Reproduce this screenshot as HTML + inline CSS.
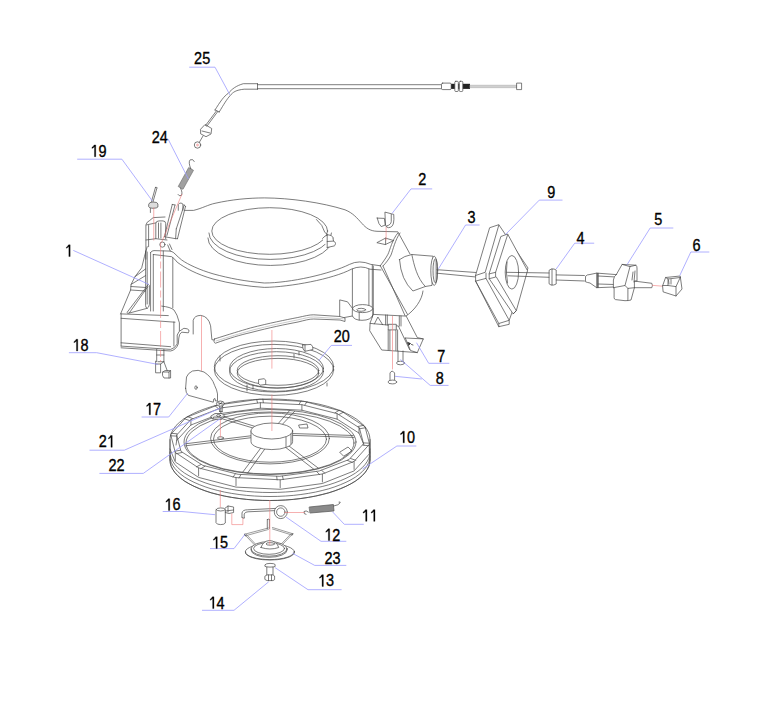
<!DOCTYPE html>
<html><head><meta charset="utf-8">
<style>
html,body{margin:0;padding:0;background:#fff;}
body{width:758px;height:720px;overflow:hidden;}
svg{display:block;}
.t{font-family:"Liberation Sans",sans-serif;font-size:17px;fill:#000;stroke:#000;stroke-width:0.35;}
.ld{stroke:#9c9cff;stroke-width:0.8;fill:none;}
.cl{stroke:#f07a7a;stroke-width:0.6;fill:none;}
.p{stroke:#4a4a4a;stroke-width:0.72;fill:none;stroke-linejoin:round;stroke-linecap:round;}
.w{stroke:#4a4a4a;stroke-width:0.72;fill:#fff;stroke-linejoin:round;}
.g{stroke:#4a4a4a;stroke-width:0.72;fill:#6a6a6a;}
</style></head><body>
<svg width="758" height="720" viewBox="0 0 758 720">
<rect width="758" height="720" fill="#fff"/>
<g id="housing" class="p">
<!-- top outline -->
<path d="M184.9,210.4 L193.6,210.4 C203,208 208,204.8 215,203.3 C232,199.5 248,198 264.3,197.9 C290,198 322,202.5 345,209.8 C353,213 357,218 362,223.5 C366,228 370,231 377,231.3 L397.8,231.8 L410,254"/>
<!-- dome -->
<ellipse cx="269.7" cy="231" rx="57.9" ry="23.3"/>
<path d="M208.9,233 A61,26.3 0 0 0 331.5,233"/>
<path d="M207.9,238 A62,27.2 0 0 0 333,238"/>
<path d="M322.5,238.4 Q325,235.5 328,234.8 Q332,235 332.8,237.2 L333.5,241.1 Q336,242.5 335.5,243.5 Q335,246 334.3,245.9 L327.2,247.5 M327.2,235 V247.5 M327.2,241.5 L333.5,241.1" fill="#fff"/>
<path d="M316.5,219.5 Q323,225 324.8,232.4 L327.5,234.5"/>
<!-- skirt -->
<path d="M150.6,252.5 Q151.5,250.6 154,250.6 L170.6,251.1 Q173.5,252 175,253.9 Q178,257 181.7,260 C188,264.5 200,270 213,273.8 C230,278.5 245,281.2 264.3,283 C290,283 330,274 349.5,264.4 Q359.2,259.5 370.9,264.4 L380.3,265.8"/>
<path d="M153.3,254.5 L171.7,256.7 Q175,259 177.2,262.2 C185,268 197,274.5 213,279 C230,283.5 248,286.5 264.3,287.4 C290,287 333,279 351.4,269.2 Q361,264.8 369.9,269.2 L381,270"/>
<!-- left column -->
<path d="M150.6,252.5 V311 M153.3,254.5 V311 M163.3,251 V311 M172.8,257.8 V307.8"/>
<path d="M145.6,251 V305.6 Q145.5,308 147.2,308.3 M147.2,252 V304"/>
<path d="M161.7,306.1 Q170.6,307 174,310 Q177.2,313.9 179.4,322.8 V330.6"/>
<!-- left base -->
<path d="M121.1,313.9 L168.3,315.6 M121.1,318.3 L175,322.2"/>
<path d="M121.1,313.9 V346.1 M121.1,342.8 L170.6,346.7 M173.9,322 V346"/>
<path d="M121.1,346.1 L170.6,349.4 Q175,348.3 177.2,343.9 V335 Q178,331 183.9,328.3 Q188,328.5 188.9,330 Q189,332.5 188.3,332.8 L181.7,332.2 Q179,334 178.8,338 L178.3,343.9 Q176,350 170.6,351 L121.1,347.8"/>
<!-- left slanted face -->
<path d="M120.6,313.9 L130.6,290 L131.1,284.4 L135,276.7 L141.7,267.8 L144.4,256.7 L147.2,246.7"/>
<path d="M135,276.7 L145.6,268.9 M131.1,284.4 L145.6,275.6 M131,286.5 L145.6,287.5 M130.6,290 L145.6,291"/>
<path d="M127.2,312.2 L148.3,284.4 L149.4,285.5 V304.4 Q149,307.5 147.2,308.3 L128.3,313.3 Z M129.4,312.8 L147.8,286.7"/>
<!-- tower -->
<path d="M145.9,259.2 V224.9 Q147,221.5 149.2,220.9 L153.2,217.6 L165,217"/>
<path d="M148.6,225.5 V246.7 M146.6,224.9 L155.8,222.9"/>
<path d="M155.8,238.7 V223.5 Q156,220.9 159,220.9 L163,220.9 Q165.7,221 165.7,223.5 V238.7 M158.5,223 V238 M160.9,223 V238"/>
<path d="M172.3,204.4 L164.4,236.7 M175,205 L167,235.4 M172.3,204.4 L175,205"/>
<path d="M184.2,205 L176.3,228.8 M185.5,206.4 L177.5,238.7 M184.2,205 L185.5,206.4"/>
<path d="M164.4,236.7 L175.6,238.7 L177.5,238.7 M176.3,228.8 L175.6,238.7"/>
<path d="M178.3,210.3 V204.5 Q179,203 181,203 L182.9,204 V210.3"/>
<circle cx="162.4" cy="244.6" r="2.6"/>
<path d="M167.7,245 L170.3,251.2 M169.5,244 L172,249.5"/>
<path d="M146,240 L155.8,238.7 L167,240"/>
<!-- right column -->
<path d="M352.4,269 V308 M368.9,269 V308 M372.3,265 V318 M373.3,266 V318"/>
<!-- right face -->
<path d="M380.3,265.8 L407.5,314.4 M383,266 L411.4,330"/>
<path d="M397.8,233 C392,240 390,250 388,254.2 C386,258 383,262 380.3,265.8"/>
<path d="M400,233 C395,240 393,250 391,255 C389,259 386,263 383,266"/>
<path d="M423,291 C422,300 415,310 405.6,316.4"/>
<!-- boss at right column -->
<path d="M339.7,318.4 V299.9 L347.5,301.8 L356.3,313.5"/>
<path d="M352.4,308.6 A10.2,4 0 0 1 372.8,308.6 V315 Q371,320.3 362,320.3 Q354,320.3 352.4,316 Z" fill="#fff"/>
<path d="M352.4,308.6 A10.2,4 0 0 0 372.8,308.6 M359.2,312.6 V320"/>
<ellipse cx="361.2" cy="309.8" rx="4.4" ry="1.5"/>
<path d="M339.7,318.4 L352.4,316"/>
</g>
<g id="elbow" class="p">
<path d="M399.5,259.6 Q404,256 411.8,254.5 L433.1,256.2 L432,285.4 L425.3,286.5 L412.9,291 Q401,280 399.5,259.6 Z" fill="#fff"/>
<path d="M411.8,254.5 C414,265 417,278 425.3,286.5"/>
<ellipse cx="434.2" cy="270.8" rx="3.4" ry="14.6" fill="#fff"/>
<ellipse cx="435.3" cy="270.8" rx="2.3" ry="12" fill="#f2f2f2"/>
<path d="M436.2,260 V282"/>
</g>
<g id="cable25" class="p">
<path d="M215,110 C220,102 224,96 228.3,93.3 C232,89 236,85.8 243.3,83.7 H257.5 M257.5,84.7 H441.5"/>
<path d="M219.2,112 C224,104 227,99 230,95.8 C233,92 236,90 244.2,89.2 H257.5 M257.5,88.7 H441.5"/>
<path d="M215,110 L219.2,112 M257.5,83.7 V89.2"/>
<path d="M216.5,110.8 L205.5,125.5 M217.8,111.5 L206.8,126.3"/>
<path d="M200.8,129 L205,124.5 L211.7,128.5 L211,134 L206,136.7 L201,134 Z M202,131 L210,133"/>
<path d="M203,136 L199.5,142"/>
<circle cx="197.5" cy="145" r="3.2"/>
<rect x="441.5" y="83.1" width="9.7" height="6.5" rx="1.2" fill="#fff"/>
<rect x="451.2" y="83.8" width="18.8" height="5.1" fill="#222" stroke="none"/>
<rect x="454.8" y="81.3" width="3.5" height="10.2" rx="1" fill="#fff"/>
<rect x="459.3" y="81.3" width="3.5" height="10.2" rx="1" fill="#fff"/>
<rect x="470" y="85.2" width="47.2" height="2.5" fill="#d0d0d0" stroke="#999" stroke-width="0.4"/>
<rect x="517" y="83.1" width="4.6" height="6.5" fill="#fff"/>
</g>
<circle cx="197.5" cy="145" r="0.9" fill="none" stroke="#ee6a6a" stroke-width="0.6"/>
<g id="spring24">
<path d="M178.2,186.5 L183,189.3 L193.5,170.3 L188.7,167.5 Z" fill="#a0a0a0" stroke="#666" stroke-width="0.6"/>
<path class="p" d="M190.8,168.8 Q188,162 190.2,159.8 Q193,158.5 194.3,161.5"/>
<path class="p" d="M180.5,188 Q183,193 181.3,195.5 Q179,196.5 178,194.5"/>
</g>
<g id="part19" class="p">
<path d="M151.5,201.5 L155.5,187.3 M153,201.8 L157,187.8 M155.5,187.3 Q156.5,186.8 157,187.8"/>
<path d="M148.75,204 Q149,202 153,202 Q157.9,202 157.9,204 V207 Q157,208.3 153,208.3 Q149,208.3 148.75,207 Z" fill="#dcdcdc"/>
<path d="M150.4,208.5 V212.5"/>
</g>
<g id="clip2" class="p">
<path d="M385.3,212.2 L393.75,214.4 Q394.2,220 393.5,223 Q392.5,227.5 388.5,227.7 Q386.2,227.5 385.6,225.6 Z" fill="#fff"/>
<path d="M391.25,214.4 V221.5 Q391,225 386.5,226"/>
<path d="M377.2,218.1 L384.4,218.4 L385.3,225 L381.25,226.6 Q378.75,225 377.2,218.1 Z"/>
<path d="M377.2,242.5 L385.6,238.1 L393.75,240.6 L385.6,244.4 Z M385.6,238.1 V244.4"/>
</g>
<g id="cable3" class="p">
<path d="M437,269.7 L476,272.5 M437,273.2 L476,277"/>
</g>
<g id="plate9" class="p">
<path d="M490,227.6 L498.8,224.7 L528,268 L509.2,320.3 V324.3 L498.8,326.7 L475.6,281.1 V275.5 Z" fill="#fff"/>
<path d="M498.8,225.2 L485.2,272.3 L475.6,275.5 M486,273.1 V278.4 L475.6,281.1 M486,278.4 L509.2,320.3 L498.8,323.5 V326.7 M475.6,281.1 L498.8,323.5"/>
<path d="M501.2,236.4 L507.6,234 L527.5,270.7 L516.3,310.7 L513.2,313.9 L489.2,278.7 V273.9 Z" fill="#fff"/>
<path d="M507.6,234.8 L495.6,272.3 L489.2,273.9 M495.6,272.3 V277.1 L489.2,278.7 M496.4,277.1 L516.3,310.7 L513.2,313.9"/>
<ellipse cx="511.9" cy="272.3" rx="6.7" ry="16.8" fill="#fff"/>
<path d="M507,262 Q505.5,272 507.5,283" />
<path d="M506,272.3 L549.4,273 M508,275.8 L549.4,277.3" />
</g>
<g id="ring4" class="p">
<path d="M549.4,270 Q551,268.5 554,269 L556.2,270 V284 Q554,285.5 551,285 L549.4,284 Z" fill="#fff"/>
<path d="M552,269 V285"/>
<path d="M556.2,274.9 L584.4,275.5 M556.2,280 L584.4,281"/>
</g>
<g id="handle5" class="p">
<path d="M585.8,276 Q587,274.5 590,274.5 L596.7,273.1 V287.7 L590,283 Q587,282.5 585.8,281.9 Z" fill="#fff"/>
<path d="M596.7,273.1 L616.3,274.6 M596.7,287.7 L614,287 M597.5,273.3 V287.5 M598.3,273.3 V287.5 M598,276 L616,277 M598,284 L614,284.5"/>
<path d="M616.3,274.6 L622.1,264.4 L635.9,265.2 Q637,266 637,268 V281 L634.4,281.1 V287.7 L631,300 Q629,300.7 625,300.7 L615.5,299.6 Q614.1,299.3 614.1,297.5 V287.7 L613.4,287.7 V280 Q614,276 616.3,274.6 Z" fill="#fff"/>
<path d="M622.1,264.4 L630,266.6 L635.9,265.2 M630,266.6 L625,285.5 L613.4,287.7 M625,285.5 L627.9,288.4 L634.4,287.7 M627.9,288.4 V300.5"/>
<path d="M633,272 L632,280 M635,271 L634,282"/>
<path d="M634.4,281.1 L651.8,283.3 Q653,285.5 651.8,287.7 L634.4,287.7"/>
</g>
<path d="M652,285.3 L662.7,286.2" class="cl"/>
<g id="cap6" class="p">
<path d="M662.7,285.5 L665.6,277.5 L680.2,276 L682,289 L676,296 L663.5,292 Z" fill="#fff"/>
<path d="M665.6,277.5 L668,279 L680.2,277.5 M668,279 V285.5 L662.7,285.5 M668,285.5 L676,286.6 L680.2,277.5 M676,286.6 V296"/>
<path d="M668.5,280 L669,284 M671,279.5 L671,284"/>
</g>
<g id="bracket7" class="p">
<path d="M373.6,314.4 L406.2,316.1 L417.3,337.6 L423.3,338.9 L417.3,352.6 L381.7,350 L369.7,330.7 L370.1,323.4 Z" fill="#fff"/>
<path d="M370.1,323.4 L398.4,326 L409.6,349.6 M405.3,338 L423.3,338.9 M405.3,338 L410.5,350.5 L417.3,352.6"/>
<path d="M374.4,323.9 L377.9,317 L382.6,324.7"/>
<path d="M385.6,315 V324.8 M387.3,315 V325 M399.3,316 V326.1 M401,316 V326"/>
<path d="M388.2,329.9 V350 M389.9,329.9 V350 M395.9,329.9 V350.5 M397.6,329.9 V350.5"/>
<rect x="388.6" y="324.3" width="7.7" height="5.6" fill="#f4f4f4"/>
<path d="M408,342.5 L410.5,343.5 L409,345 Z M411.5,344.5 L413,345" stroke="#222" fill="#222"/>
</g>
<g id="screws8" class="p">
<path d="M398,351 V362 M403,351 V362" />
<ellipse cx="400.5" cy="363" rx="4" ry="1.8" fill="#fff"/>
<path d="M390,380 V373 Q392,369.4 394.6,373 V380"/>
<ellipse cx="392.3" cy="382" rx="4.3" ry="1.9" fill="#fff"/>
</g>
<g id="pulley10" class="p">
<path d="M370.0,460.0 L369.7,463.2 L368.8,466.3 L367.2,469.5 L365.1,472.5 L362.4,475.5 L359.1,478.4 L355.3,481.2 L350.9,483.8 L346.0,486.3 L340.7,488.6 L334.9,490.8 L328.8,492.8 L322.2,494.5 L315.4,496.1 L308.3,497.4 L300.9,498.5 L293.3,499.4 L285.6,500.0 L277.8,500.4 L270.0,500.5 L262.2,500.4 L254.4,500.0 L246.7,499.4 L239.1,498.5 L231.7,497.4 L224.6,496.1 L217.8,494.5 L211.2,492.8 L205.1,490.8 L199.3,488.6 L194.0,486.3 L189.1,483.8 L184.7,481.2 L180.9,478.4 L177.6,475.5 L174.9,472.5 L172.8,469.5 L171.2,466.3 L170.3,463.2 L170.0,460.0 L170.0,439.5 L170.4,436.0 L171.5,432.5 L173.4,429.0 L176.0,425.6 L179.4,422.4 L183.4,419.2 L188.1,416.3 L193.4,413.5 L199.3,410.9 L205.7,408.5 L212.6,406.3 L220.0,404.4 L227.7,402.8 L235.8,401.4 L244.1,400.4 L252.6,399.6 L261.3,399.2 L270.0,399.0 L278.7,399.2 L287.4,399.6 L295.9,400.4 L304.2,401.4 L312.3,402.8 L320.0,404.4 L327.4,406.3 L334.3,408.5 L340.7,410.9 L346.6,413.5 L351.9,416.3 L356.6,419.2 L360.6,422.4 L364.0,425.6 L366.6,429.0 L368.5,432.5 L369.6,436.0 L370.0,439.5 Z" fill="#fff"/>
<path d="M370.0,452.0 L369.7,455.2 L368.8,458.3 L367.2,461.5 L365.1,464.5 L362.4,467.5 L359.1,470.4 L355.3,473.2 L350.9,475.8 L346.0,478.3 L340.7,480.6 L334.9,482.8 L328.8,484.8 L322.2,486.5 L315.4,488.1 L308.3,489.4 L300.9,490.5 L293.3,491.4 L285.6,492.0 L277.8,492.4 L270.0,492.5 L262.2,492.4 L254.4,492.0 L246.7,491.4 L239.1,490.5 L231.7,489.4 L224.6,488.1 L217.8,486.5 L211.2,484.8 L205.1,482.8 L199.3,480.6 L194.0,478.3 L189.1,475.8 L184.7,473.2 L180.9,470.4 L177.6,467.5 L174.9,464.5 L172.8,461.5 L171.2,458.3 L170.3,455.2 L170.0,452.0"/>
<path d="M370.0,456.0 L369.7,459.2 L368.8,462.3 L367.2,465.5 L365.1,468.5 L362.4,471.5 L359.1,474.4 L355.3,477.2 L350.9,479.8 L346.0,482.3 L340.7,484.6 L334.9,486.8 L328.8,488.8 L322.2,490.5 L315.4,492.1 L308.3,493.4 L300.9,494.5 L293.3,495.4 L285.6,496.0 L277.8,496.4 L270.0,496.5 L262.2,496.4 L254.4,496.0 L246.7,495.4 L239.1,494.5 L231.7,493.4 L224.6,492.1 L217.8,490.5 L211.2,488.8 L205.1,486.8 L199.3,484.6 L194.0,482.3 L189.1,479.8 L184.7,477.2 L180.9,474.4 L177.6,471.5 L174.9,468.5 L172.8,465.5 L171.2,462.3 L170.3,459.2 L170.0,456.0"/>
<path d="M370.0,460.0 L369.7,463.2 L368.8,466.3 L367.2,469.5 L365.1,472.5 L362.4,475.5 L359.1,478.4 L355.3,481.2 L350.9,483.8 L346.0,486.3 L340.7,488.6 L334.9,490.8 L328.8,492.8 L322.2,494.5 L315.4,496.1 L308.3,497.4 L300.9,498.5 L293.3,499.4 L285.6,500.0 L277.8,500.4 L270.0,500.5 L262.2,500.4 L254.4,500.0 L246.7,499.4 L239.1,498.5 L231.7,497.4 L224.6,496.1 L217.8,494.5 L211.2,492.8 L205.1,490.8 L199.3,488.6 L194.0,486.3 L189.1,483.8 L184.7,481.2 L180.9,478.4 L177.6,475.5 L174.9,472.5 L172.8,469.5 L171.2,466.3 L170.3,463.2 L170.0,460.0"/>
<path d="M370.0,449.0 L369.3,453.9 L354.1,470.9 L322.4,483.5 L280.2,489.3 L236.0,487.1 L198.6,477.4 L175.3,462.0 L170.0,449.0"/>
<path d="M170,439.5 V460 M370,439.5 V460"/>
<path d="M369.3,444.4 L354.1,461.4 L322.4,474.0 L280.2,479.8 L236.0,477.6 L198.6,467.9 L175.3,452.5 L170.7,434.6 L185.9,417.6 L217.6,405.0 L259.8,399.2 L304.0,401.4 L341.4,411.1 L364.7,426.5 Z"/>
<path d="M363.3,444.0 L349.1,459.5 L319.2,471.0 L279.6,476.3 L238.1,474.3 L202.9,465.4 L181.0,451.4 L176.7,435.0 L190.9,419.5 L220.8,408.0 L260.4,402.7 L301.9,404.7 L337.1,413.6 L359.0,427.6 Z"/>
<path d="M176.0,445.0 L176.7,440.5 L190.9,425.0 L220.8,413.5 L260.4,408.2 L301.9,410.2 L337.1,419.1 L359.0,433.1 L364.0,445.0"/>
<path d="M369.6,443.2 L363.6,442.9"/>
<path d="M368.8,445.7 L362.9,445.2"/>
<path d="M369.3,444.4 V452.4"/>
<path d="M355.8,460.3 L350.6,458.5"/>
<path d="M352.4,462.4 L347.5,460.5"/>
<path d="M354.1,461.4 V469.4"/>
<path d="M325.0,473.3 L321.7,470.4"/>
<path d="M319.7,474.7 L316.7,471.6"/>
<path d="M322.4,474.0 V482.0"/>
<path d="M283.3,479.6 L282.5,476.2"/>
<path d="M277.1,479.9 L276.7,476.4"/>
<path d="M280.2,479.8 V487.8"/>
<path d="M239.0,478.0 L240.9,474.7"/>
<path d="M233.1,477.1 L235.3,473.9"/>
<path d="M236.0,477.6 V485.6"/>
<path d="M200.8,468.7 L205.0,466.2"/>
<path d="M196.4,466.9 L200.8,464.6"/>
<path d="M198.6,467.9 V475.9"/>
<path d="M176.3,453.7 L182.0,452.5"/>
<path d="M174.3,451.3 L180.1,450.3"/>
<path d="M175.3,452.5 V460.5"/>
<path d="M170.4,435.8 L176.4,436.1"/>
<path d="M171.2,433.3 L177.1,433.8"/>
<path d="M176.7,435.0 V440.5"/>
<path d="M184.2,418.7 L189.4,420.5"/>
<path d="M187.6,416.6 L192.5,418.5"/>
<path d="M190.9,419.5 V425.0"/>
<path d="M215.0,405.7 L218.3,408.6"/>
<path d="M220.3,404.3 L223.3,407.4"/>
<path d="M220.8,408.0 V413.5"/>
<path d="M256.7,399.4 L257.5,402.8"/>
<path d="M262.9,399.1 L263.3,402.6"/>
<path d="M260.4,402.7 V408.2"/>
<path d="M301.0,401.0 L299.1,404.3"/>
<path d="M306.9,401.9 L304.7,405.1"/>
<path d="M301.9,404.7 V410.2"/>
<path d="M339.2,410.3 L335.0,412.8"/>
<path d="M343.6,412.1 L339.2,414.4"/>
<path d="M337.1,413.6 V419.1"/>
<path d="M363.7,425.3 L358.0,426.5"/>
<path d="M365.7,427.7 L359.9,428.7"/>
<path d="M359.0,427.6 V433.1"/>
<ellipse cx="270" cy="442" rx="86" ry="32.5"/>
<ellipse cx="270" cy="443" rx="84" ry="31"/>
<ellipse cx="270" cy="438.4" rx="59.4" ry="25.5"/>
<ellipse cx="270" cy="439.2" rx="56.5" ry="23"/>
<path d="M251.2,437.7 L185.6,445.8"/>
<path d="M250.8,435.8 L185.1,443.8"/>
<path d="M257.5,429.4 L216.7,417.1"/>
<path d="M261.0,428.3 L221.0,415.9"/>
<path d="M275.1,427.1 L289.4,410.8"/>
<path d="M279.3,427.6 L294.6,411.4"/>
<path d="M292.0,433.5 L353.2,435.5"/>
<path d="M292.7,435.4 L354.1,437.4"/>
<path d="M285.0,443.0 L318.5,468.3"/>
<path d="M281.3,444.0 L314.0,469.4"/>
<path d="M267.8,444.8 L247.7,472.9"/>
<path d="M263.6,444.3 L242.6,472.3"/>
<path d="M251,431 V441.6 A20.8,8 0 0 0 292.6,441.6 V431" fill="#fff"/>
<ellipse cx="271.8" cy="431" rx="20.8" ry="8" fill="#fff"/>
<path d="M286,437 V447 M291,434 V444"/>
<ellipse cx="220.5" cy="438" rx="3" ry="1.3"/>
<path d="M299,425 L307,424 L308,428 L300,428 Z"/>
<path d="M340,452 L348,447 L352,451 L344,456 Z"/>
</g><g id="rod" class="p">
<path d="M214.5,339 C230,334 240,331 250.3,328 C270,323 285,320 297.8,317.5 C305,316 309,314.8 313.6,314.8 L340,316.5 L345,318 L345,321.5 L340,320 L313.6,319 C309,319 305,320.3 298,322 C285,324.5 270,327.5 251,332.5 C240,335 230,338 215.5,343.2 Q213,342.5 214.5,339 Z" fill="#fff"/>
<path d="M216,341 C230,336.5 240,333.5 251,330.5 C270,325.5 285,322.5 298,319.8 C305,318.2 309,317 313.6,317 L343,318.8" stroke="#aaa" stroke-width="0.6"/>
</g>
<g id="tab" class="p">
<path d="M193.2,334 V320.3 Q194.5,315.4 200.8,315.4 Q208.5,316.5 210.6,325.8 L211.9,339.7 L214,340"/>
</g>
<g id="spring20" class="p">
<ellipse cx="274" cy="366.5" rx="59.7" ry="25.5"/>
<ellipse cx="274" cy="369.9" rx="59.7" ry="25.5"/>
<ellipse cx="276.5" cy="368.3" rx="47" ry="19.8"/>
<ellipse cx="276.5" cy="371.5" rx="47" ry="19.8"/>
<ellipse cx="278" cy="370.5" rx="40.8" ry="14.8"/>
<ellipse cx="278" cy="373.2" rx="40.8" ry="14.8"/>
<path d="M302.6,345 L311,344.4 Q313,346 313,349.5 L305,351.3 Q302.6,350 302.6,345 Z" fill="#fff"/>
<path d="M305,345 V351"/>
<path d="M258.9,379.5 L264,378.7 L265.7,380 V384.5 L260,385.2 L258.9,384 Z" fill="#fff"/>
<path d="M220,356 V361 M294,354 V358 M299,351.5 V355 M247,385 V391 M253,385.5 V389 M327,383 V386"/>
</g>
<g id="disc17" class="p">
<path d="M185.6,388.3 L186.5,377 Q188,373 192.5,371 Q198,369.2 204,372 Q212,377 214.7,385.6 Q217,390 217.5,393.9 V400.8 L215.5,401 L215,398.5 L213.8,399 L213.3,402.2 L188.3,395.3 Q185.6,393 185.6,388.3 Z" fill="#fff"/>
<ellipse cx="196" cy="387.6" rx="1.2" ry="1.8"/>
</g>
<g id="bracket18" class="p">
<path d="M156.7,349.4 V361.7 L155.6,361 V372.8 L160.6,372.8 V364 L163.9,361.7 V349.4"/>
<path d="M156.7,355 H163.9 M158,361.7 H163.9 M155.6,364 H160.6"/>
<path d="M163.9,361.7 L167.2,370.6"/>
<path d="M162.8,372 L165,370.6 L170.6,370.6 V378 L164,378 L162.8,376 Z M162.8,372 H169 V378 M169,372 L170.6,370.6"/>
</g>
<g id="screw21" class="p">
<path d="M219.6,406 V411.5 M222.2,406 V411.5 M219.6,411.5 H222.2"/>
<ellipse cx="220.4" cy="403.6" rx="4" ry="2.6" fill="#f4f4f4"/>
<path d="M218,402.8 L223,404.2 M219,404.5 L222,402.5" stroke="#333"/>
</g>
<g id="nut22" class="p">
<path d="M211,416 L215,413.5 L222,413.5 L225,416.5 L221,419.4 L213,419 Z" fill="#f0f0f0"/>
<path d="M213,419 L213.5,417 L221,417.3 L221,419.4 M221,417.3 L225,416.5"/>
<ellipse cx="218.5" cy="415.6" rx="2" ry="1"/>
</g>
<g id="small" class="p">
<path d="M216.1,509.5 Q216.5,507.9 220.7,507.9 Q225,507.9 225.3,509.5 V523 Q224.5,524.6 220.7,524.6 Q216.5,524.6 216.1,523 Z" fill="#fff"/>
<path d="M216.1,509.5 Q217,511 220.7,511 Q224.5,511 225.3,509.5"/>
<path d="M225.3,508 L228,506 L233.6,507 V512.5 L229,513.5 L225.3,512.5 M228,506 V512 M225.3,511 L233.6,510"/>
<path d="M242,517.5 V513 Q242.5,509.8 247.5,509.8 L284.4,508 M244.2,518 V514 Q245,511.8 248,511.8 L284.4,510.2 M242,517.5 Q243,519 244.2,518"/>
<circle cx="280.8" cy="512.1" r="6.5" fill="#fff"/>
<circle cx="280.8" cy="512.1" r="4.2"/>
<path d="M308.4,512 Q306,510 304,511.5 Q303.5,514.4 306,514.4"/>
<path d="M309.5,507 L333.4,504.5 L334,511 L310.3,513 Z" fill="#8a8a8a" stroke="#555"/>
<path d="M333.8,506 Q339,505 340,503 Q341,501.5 339,502"/>
<!-- spring 23 wire form -->
<path d="M244.4,534.3 L268.3,528 M245.5,535.8 L268.3,529.5 M272.5,527.5 L292.8,533.75 M272.5,529 L291.8,535" stroke="#777"/>
<path d="M244.4,534.3 L255.8,546.25 M245.9,534 L257.3,546 M292.8,533.75 L280.8,546.25 M291.3,533.5 L279.3,546" stroke="#777"/>
<path d="M244.4,534.3 Q244,536 245.5,535.8 M292.8,533.75 Q293,535.5 291.8,535"/>
<path d="M267.3,519.5 V528.5 M269.4,519.5 V528.5 M267.3,519.5 Q268.3,518.5 269.4,519.5"/>
<!-- disc 23 -->
<ellipse cx="269.9" cy="551.8" rx="24.5" ry="7.8" fill="#fff"/>
<path d="M245.4,551.8 Q245.4,554 247,555 A24.5,7.8 0 0 0 292.8,555 Q294.4,554 294.4,551.8"/>
<ellipse cx="269.1" cy="548.9" rx="18" ry="7.3" fill="#fff"/>
<path d="M251.1,548.9 V550 A18,7.3 0 0 0 287.1,550 V548.9"/>
<ellipse cx="269.1" cy="548.5" rx="15.5" ry="5.8"/>
<path d="M261,547.5 Q263,541 269.5,540.5 Q276.5,541 278.75,547.5 Q270,550.5 261,547.5 Z" fill="#fff"/>
<ellipse cx="270.3" cy="543.9" rx="4.3" ry="1.3"/>
<!-- bolt 13/14 -->
<path d="M265.2,564.5 Q266,563.4 270,563.4 Q274.5,563.4 275.1,564.5 V566.5 Q274,567.1 270,567.1 Q266,567.1 265.2,566.5 Z" fill="#fff"/>
<path d="M266.8,567.1 V575 M273,567.1 V575"/>
<path d="M265.2,576 L267,574.9 H273 L274.6,576 V579.6 L273,580.6 H267 L265.2,579.6 Z" fill="#fff"/>
<path d="M268.5,574.9 V580.6 M271.5,574.9 V580.6"/>
</g>
<g id="centerlines" class="cl">
<path d="M153.75,207.5 V240.5"/>
<path d="M160.6,242.5 V302 M160.6,302 V362" stroke-dasharray="16,3,7,3"/>
<path d="M182,194 L161.5,242.5"/>
<path d="M201.5,315.8 V371"/>
<path d="M271.9,330 V368.6"/>
<path d="M271.9,394.5 V431 M269.8,500 V545"/>
<path d="M220.4,419.5 V437.5 M220.3,490 V507.4"/>
<path d="M231.8,513.5 V524.6 H242.9 V518"/>
<path d="M284.4,512.5 H304.7"/>
<path d="M392.5,316 V369.4"/>
<path d="M386.1,227 V240.5"/>
</g>
<g id="leaders" class="ld">
<path d="M189.2,67.2 H215 L230,95"/>
<path d="M168,138.9 L188.4,179"/>
<path d="M77.2,159.2 H121.9 L152.4,201"/>
<path d="M73.3,250.4 L148.9,284.4"/>
<path d="M432.2,188.9 H411 L392.2,213.3"/>
<path d="M479.6,225 H465.6 L438.4,268.9"/>
<path d="M562.5,200.1 H539.3 L505.6,234.4"/>
<path d="M594.2,243.2 H574.7 L556.2,269"/>
<path d="M673.3,228 H650.2 L627.1,264.6"/>
<path d="M709.3,252 H690.8 L679.7,275.7"/>
<path d="M68.9,352.7 H96.7 L157.8,364.4"/>
<path d="M352,345.4 H331.3 L318.75,360.6"/>
<path d="M449.3,363.3 H428.7 L416.5,342.7"/>
<path d="M448.5,385.4 H430.2 L400.5,359.5 M421.8,379 L395,376.3"/>
<path d="M141.6,417 H168.7 L187.7,393.2"/>
<path d="M89.5,450.2 H124.3 L220.4,408"/>
<path d="M99.4,473.4 H143.3 L220.4,418.5"/>
<path d="M416.3,446 H396.9 L362.5,469"/>
<path d="M162.7,511.5 H182 L215,514.7"/>
<path d="M363.75,524.3 H344.3 L332.5,511.8"/>
<path d="M346.3,541.3 H321 L286,517"/>
<path d="M210,548.6 H234 L245,534.3"/>
<path d="M346.3,565.4 H314.7 L292.5,553.3"/>
<path d="M341.6,589.7 H308 L275,567.6"/>
<path d="M202,610.3 H234 L268.7,581.8"/>
</g>
<g id="labels">
<text class="t" transform="translate(194.12,63.75) scale(0.85,1)">2</text>
<text class="t" transform="translate(202.16,63.75) scale(0.85,1)">5</text>
<text class="t" transform="translate(151.82,142.75) scale(0.85,1)">2</text>
<text class="t" transform="translate(159.86,142.75) scale(0.85,1)">4</text>
<path transform="translate(90.38,156.65)" d="M5.38,0 V-11.7 H3.81 C3.2,-10.6 2.5,-9.9 1.57,-9.3 V-8.22 C2.6,-8.7 3.5,-9.3 4.08,-9.96 V0 Z" fill="#000" stroke="#000" stroke-width="0.3"/>
<text class="t" transform="translate(98.42,156.65) scale(0.85,1)">9</text>
<path transform="translate(64.78,256.55)" d="M5.38,0 V-11.7 H3.81 C3.2,-10.6 2.5,-9.9 1.57,-9.3 V-8.22 C2.6,-8.7 3.5,-9.3 4.08,-9.96 V0 Z" fill="#000" stroke="#000" stroke-width="0.3"/>
<text class="t" transform="translate(418.32,184.75) scale(0.85,1)">2</text>
<text class="t" transform="translate(467.60,223.15) scale(0.85,1)">3</text>
<text class="t" transform="translate(547.17,197.85) scale(0.85,1)">9</text>
<text class="t" transform="translate(576.52,243.55) scale(0.85,1)">4</text>
<text class="t" transform="translate(654.37,224.85) scale(0.85,1)">5</text>
<text class="t" transform="translate(692.42,250.65) scale(0.85,1)">6</text>
<path transform="translate(72.38,350.95)" d="M5.38,0 V-11.7 H3.81 C3.2,-10.6 2.5,-9.9 1.57,-9.3 V-8.22 C2.6,-8.7 3.5,-9.3 4.08,-9.96 V0 Z" fill="#000" stroke="#000" stroke-width="0.3"/>
<text class="t" transform="translate(80.42,350.95) scale(0.85,1)">8</text>
<text class="t" transform="translate(333.82,342.15) scale(0.85,1)">2</text>
<text class="t" transform="translate(341.86,342.15) scale(0.85,1)">0</text>
<text class="t" transform="translate(437.31,361.65) scale(0.85,1)">7</text>
<text class="t" transform="translate(435.82,383.75) scale(0.85,1)">8</text>
<path transform="translate(145.08,414.75)" d="M5.38,0 V-11.7 H3.81 C3.2,-10.6 2.5,-9.9 1.57,-9.3 V-8.22 C2.6,-8.7 3.5,-9.3 4.08,-9.96 V0 Z" fill="#000" stroke="#000" stroke-width="0.3"/>
<text class="t" transform="translate(153.12,414.75) scale(0.85,1)">7</text>
<text class="t" transform="translate(98.82,447.25) scale(0.85,1)">2</text>
<path transform="translate(106.86,447.25)" d="M5.38,0 V-11.7 H3.81 C3.2,-10.6 2.5,-9.9 1.57,-9.3 V-8.22 C2.6,-8.7 3.5,-9.3 4.08,-9.96 V0 Z" fill="#000" stroke="#000" stroke-width="0.3"/>
<path transform="translate(398.98,442.85)" d="M5.38,0 V-11.7 H3.81 C3.2,-10.6 2.5,-9.9 1.57,-9.3 V-8.22 C2.6,-8.7 3.5,-9.3 4.08,-9.96 V0 Z" fill="#000" stroke="#000" stroke-width="0.3"/>
<text class="t" transform="translate(407.02,442.85) scale(0.85,1)">0</text>
<text class="t" transform="translate(108.52,471.15) scale(0.85,1)">2</text>
<text class="t" transform="translate(116.56,471.15) scale(0.85,1)">2</text>
<path transform="translate(164.38,510.45)" d="M5.38,0 V-11.7 H3.81 C3.2,-10.6 2.5,-9.9 1.57,-9.3 V-8.22 C2.6,-8.7 3.5,-9.3 4.08,-9.96 V0 Z" fill="#000" stroke="#000" stroke-width="0.3"/>
<text class="t" transform="translate(172.42,510.45) scale(0.85,1)">6</text>
<path transform="translate(361.58,521.35)" d="M5.38,0 V-11.7 H3.81 C3.2,-10.6 2.5,-9.9 1.57,-9.3 V-8.22 C2.6,-8.7 3.5,-9.3 4.08,-9.96 V0 Z" fill="#000" stroke="#000" stroke-width="0.3"/>
<path transform="translate(369.62,521.35)" d="M5.38,0 V-11.7 H3.81 C3.2,-10.6 2.5,-9.9 1.57,-9.3 V-8.22 C2.6,-8.7 3.5,-9.3 4.08,-9.96 V0 Z" fill="#000" stroke="#000" stroke-width="0.3"/>
<path transform="translate(211.88,548.45)" d="M5.38,0 V-11.7 H3.81 C3.2,-10.6 2.5,-9.9 1.57,-9.3 V-8.22 C2.6,-8.7 3.5,-9.3 4.08,-9.96 V0 Z" fill="#000" stroke="#000" stroke-width="0.3"/>
<text class="t" transform="translate(219.92,548.45) scale(0.85,1)">5</text>
<path transform="translate(324.28,540.55)" d="M5.38,0 V-11.7 H3.81 C3.2,-10.6 2.5,-9.9 1.57,-9.3 V-8.22 C2.6,-8.7 3.5,-9.3 4.08,-9.96 V0 Z" fill="#000" stroke="#000" stroke-width="0.3"/>
<text class="t" transform="translate(332.32,540.55) scale(0.85,1)">2</text>
<text class="t" transform="translate(324.42,564.25) scale(0.85,1)">2</text>
<text class="t" transform="translate(332.46,564.25) scale(0.85,1)">3</text>
<path transform="translate(317.98,586.45)" d="M5.38,0 V-11.7 H3.81 C3.2,-10.6 2.5,-9.9 1.57,-9.3 V-8.22 C2.6,-8.7 3.5,-9.3 4.08,-9.96 V0 Z" fill="#000" stroke="#000" stroke-width="0.3"/>
<text class="t" transform="translate(326.02,586.45) scale(0.85,1)">3</text>
<path transform="translate(208.58,608.55)" d="M5.38,0 V-11.7 H3.81 C3.2,-10.6 2.5,-9.9 1.57,-9.3 V-8.22 C2.6,-8.7 3.5,-9.3 4.08,-9.96 V0 Z" fill="#000" stroke="#000" stroke-width="0.3"/>
<text class="t" transform="translate(216.62,608.55) scale(0.85,1)">4</text>
</g></svg></body></html>
